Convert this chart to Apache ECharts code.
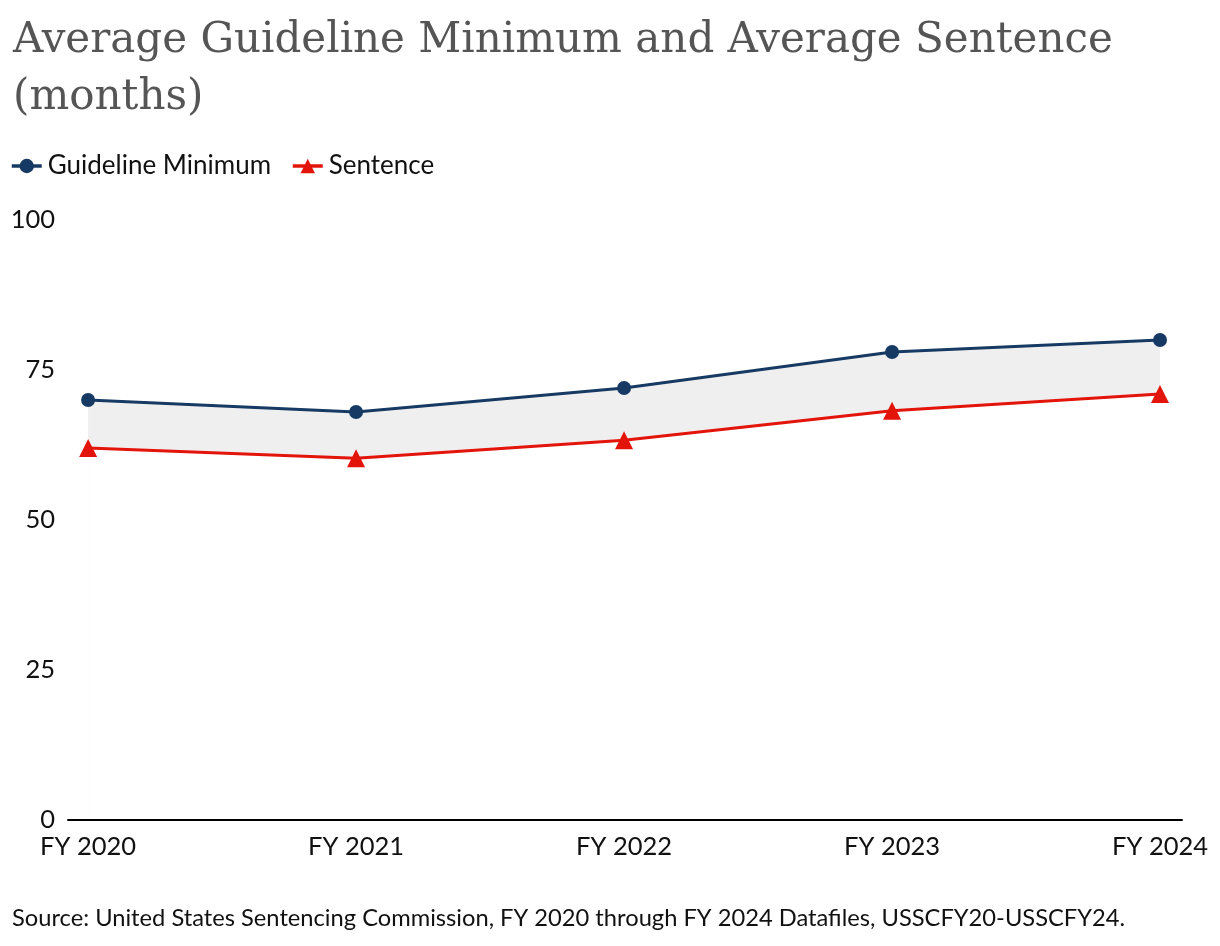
<!DOCTYPE html>
<html>
<head>
<meta charset="utf-8">
<script src="https://cdn.jsdelivr.net/npm/echarts@6/dist/echarts.min.js"></script>
<style>
html,body{margin:0;padding:0;background:#fff;}
#chart{width:1220px;height:946px;}
</style>
</head>
<body>
<div id="chart"></div>
<script>
const categories = ['FY 2020', 'FY 2021', 'FY 2022', 'FY 2023', 'FY 2024'];
const guidelineMinimum = [70, 68, 72, 78, 80];
const sentence = [62, 60.3, 63.3, 68.2, 71];
const yTicks = [0, 25, 50, 75, 100];

const chart = echarts.init(document.getElementById('chart'));
const xy = arr => arr.map((v, i) => [i, v]);

chart.setOption({
  animation: false,
  title: {
    text: 'Average Guideline Minimum and Average Sentence\n(months)',
    left: 8, top: 8,
    textStyle: { fontFamily: 'DejaVu Serif', fontSize: 42, fontWeight: 'normal', color: '#555555', lineHeight: 57 }
  },
  legend: {
    left: 5, top: 148,
    itemWidth: 30, itemHeight: 18, itemGap: 20,
    lineStyle: { width: 3.5 },
    data: ['Guideline Minimum', 'Sentence'],
    textStyle: { fontFamily: 'Lato', fontSize: 26, color: '#111', padding: [0, 0, 0, 1] }
  },
  grid: { left: 68, right: 38, top: 220, bottom: 126 },
  xAxis: {
    type: 'value', min: -0.075, max: 4.082, z: 10,
    axisLine: { show: true, onZero: false, lineStyle: { color: '#000', width: 2 } },
    axisTick: { show: false },
    splitLine: { show: false },
    axisLabel: {
      customValues: [0, 1, 2, 3, 4],
      formatter: v => categories[Math.round(v)],
      fontFamily: 'Lato', fontSize: 25.5, color: '#111', margin: 14
    }
  },
  yAxis: {
    type: 'value', min: 0, max: 100, interval: 25,
    axisLine: { show: false }, axisTick: { show: false }, splitLine: { show: false },
    axisLabel: {
      customValues: yTicks,
      fontFamily: 'Lato', fontSize: 25.5, color: '#111', margin: 13
    }
  },
  series: [
    { name: 'bandTop', type: 'line', data: xy(guidelineMinimum), symbol: 'none',
      lineStyle: { opacity: 0 }, areaStyle: { color: '#efefef', opacity: 1, origin: 'start' }, silent: true, z: 1 },
    { name: 'bandBottom', type: 'line', data: xy(sentence), symbol: 'none',
      lineStyle: { opacity: 0 }, areaStyle: { color: '#ffffff', opacity: 1, origin: 'start' }, silent: true, z: 2 },
    { name: 'Guideline Minimum', type: 'line', data: xy(guidelineMinimum),
      symbol: 'circle', symbolSize: 14, itemStyle: { color: '#163a63' },
      lineStyle: { color: '#163a63', width: 3 }, z: 3 },
    { name: 'Sentence', type: 'line', data: xy(sentence),
      symbol: 'triangle', symbolSize: 18, itemStyle: { color: '#e3140a' },
      lineStyle: { color: '#e3140a', width: 3 }, z: 3 }
  ],
  graphic: [{
    type: 'text', left: 12, top: 906,
    style: { text: 'Source: United States Sentencing Commission, FY 2020 through FY 2024 Datafiles, USSCFY20-USSCFY24.',
      font: '23.7px Lato', fill: '#111' }
  }]
});
</script>
</body>
</html>
